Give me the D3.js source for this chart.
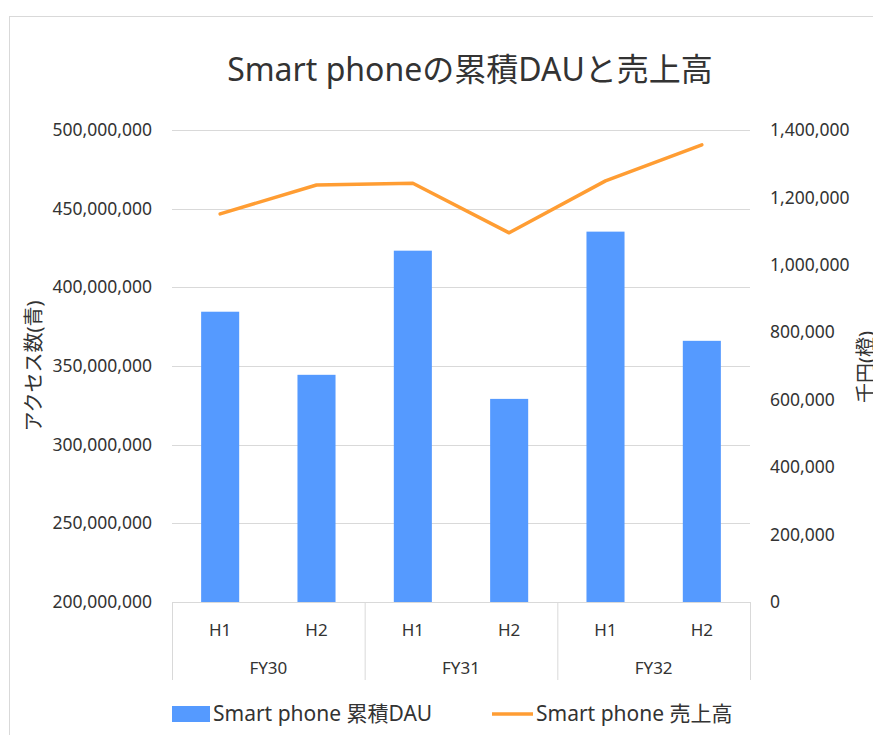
<!DOCTYPE html>
<html>
<head>
<meta charset="utf-8">
<script src="https://cdn.jsdelivr.net/npm/d3@7"></script>
<style>
  html, body { margin: 0; padding: 0; background: #fff; overflow: hidden; }
  svg { display: block; }
  text { font-family: "Noto Sans", "Noto Sans CJK JP", sans-serif; fill: #333; }
</style>
</head>
<body>
<svg id="chart" width="873" height="735"></svg>
<script>
const halves = ["H1", "H2", "H1", "H2", "H1", "H2"];
const years = ["FY30", "FY31", "FY32"];
const dau = [384500000, 344400000, 423300000, 329100000, 435400000, 366000000];
const sales = [1151000, 1237000, 1242000, 1095000, 1249000, 1356000];
const leftTicks = [200000000, 250000000, 300000000, 350000000, 400000000, 450000000, 500000000];
const rightTicks = [0, 200000, 400000, 600000, 800000, 1000000, 1200000, 1400000];
const titleText = "Smart phoneの累積DAUと売上高";
const leftLabel = "アクセス数(青)";
const rightLabel = "千円(橙)";
const legendBar = "Smart phone 累積DAU";
const legendLine = "Smart phone 売上高";

const svg = d3.select("#chart");
const M = { left: 172, right: 750, top: 130, bottom: 602 };
const barColor = "#559AFF";
const lineColor = "#FF9D33";
const gridColor = "#d9d9d9";
const txt = "#333";

// chart frame
svg.append("rect").attr("x", 9.5).attr("y", 16.5).attr("width", 1000).attr("height", 1000)
  .attr("fill", "#fff").attr("stroke", gridColor).attr("stroke-width", 1);

const x = d3.scaleBand().domain(d3.range(dau.length)).range([M.left, M.right]).padding(0);
const yL = d3.scaleLinear().domain([200000000, 500000000]).range([M.bottom, M.top]);
const yR = d3.scaleLinear().domain([0, 1400000]).range([M.bottom, M.top]);
const fmt = d3.format(",");

// gridlines
svg.append("g").selectAll("line").data(leftTicks.slice(1)).join("line")
  .attr("x1", M.left).attr("x2", M.right)
  .attr("y1", d => Math.round(yL(d)) + 0.5).attr("y2", d => Math.round(yL(d)) + 0.5)
  .attr("stroke", gridColor).attr("stroke-width", 1);

// left axis labels
const gL = svg.append("g").attr("transform", `translate(${M.left},0)`)
  .call(d3.axisLeft(yL).tickValues(leftTicks).tickFormat(fmt).tickSize(0).tickPadding(20));
gL.select(".domain").remove();
gL.selectAll("text").style("font-size", "17.5px").attr("fill", txt)
  .style("font-family", '"Noto Sans", sans-serif');

// right axis labels
const gR = svg.append("g").attr("transform", `translate(${M.right},0)`)
  .call(d3.axisRight(yR).tickValues(rightTicks).tickFormat(fmt).tickSize(0).tickPadding(20));
gR.select(".domain").remove();
gR.selectAll("text").style("font-size", "17.5px").attr("fill", txt)
  .style("font-family", '"Noto Sans", sans-serif');

// bars
const bw = x.step() * 0.395;
svg.append("g").selectAll("rect").data(dau).join("rect")
  .attr("x", (d, i) => x(i) + x.step() / 2 - bw / 2)
  .attr("y", d => yL(d))
  .attr("width", bw)
  .attr("height", d => yL(200000000) - yL(d))
  .attr("fill", barColor);

// bottom axis & separators
svg.append("line").attr("x1", M.left).attr("x2", M.right)
  .attr("y1", M.bottom + 0.5).attr("y2", M.bottom + 0.5)
  .attr("stroke", gridColor).attr("stroke-width", 1);
const sepIdx = [0, 2, 4, 6];
svg.append("g").selectAll("line").data(sepIdx).join("line")
  .attr("x1", d => (d < 6 ? x(d) : M.right) + 0.5)
  .attr("x2", d => (d < 6 ? x(d) : M.right) + 0.5)
  .attr("y1", M.bottom).attr("y2", 680)
  .attr("stroke", gridColor).attr("stroke-width", 1);

svg.append("g").selectAll("text").data(halves).join("text")
  .attr("x", (d, i) => x(i) + x.step() / 2).attr("y", 636)
  .attr("text-anchor", "middle").style("font-size", "17px").text(d => d);
svg.append("g").selectAll("text").data(years).join("text")
  .attr("x", (d, i) => x(i * 2) + x.step()).attr("y", 674)
  .attr("text-anchor", "middle").style("font-size", "17px").text(d => d);

// line
const line = d3.line().x((d, i) => x(i) + x.step() / 2).y(d => yR(d));
svg.append("path").datum(sales).attr("d", line)
  .attr("fill", "none").attr("stroke", lineColor).attr("stroke-width", 3.5)
  .attr("stroke-linejoin", "round").attr("stroke-linecap", "round");

// title
svg.append("text").attr("x", 470).attr("y", 81).attr("text-anchor", "middle")
  .style("font-size", "32px").text(titleText);

// axis titles
svg.append("text").attr("transform", `translate(41,366) rotate(-90)`)
  .attr("text-anchor", "middle").style("font-size", "20px").text(leftLabel);
svg.append("text").attr("transform", `translate(873,367) rotate(-90)`)
  .attr("text-anchor", "middle").style("font-size", "20px").text(rightLabel);

// legend
svg.append("rect").attr("x", 172).attr("y", 706).attr("width", 38).attr("height", 16).attr("fill", barColor);
svg.append("text").attr("x", 213).attr("y", 721).style("font-size", "21px").text(legendBar);
svg.append("line").attr("x1", 492).attr("x2", 533).attr("y1", 714).attr("y2", 714)
  .attr("stroke", lineColor).attr("stroke-width", 3.5);
svg.append("text").attr("x", 536).attr("y", 721).style("font-size", "21px").text(legendLine);
</script>
</body>
</html>
